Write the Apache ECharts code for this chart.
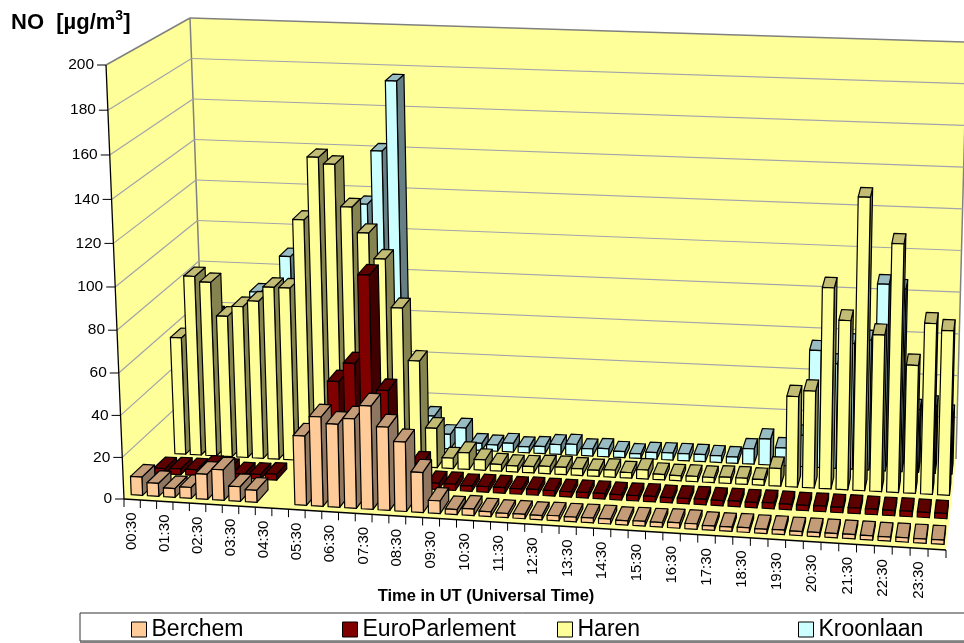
<!DOCTYPE html>
<html><head><meta charset="utf-8">
<style>html,body{margin:0;padding:0;background:#fff}#c{width:964px;height:643px}</style>
<script src="https://cdn.jsdelivr.net/npm/echarts@6/dist/echarts.min.js"></script>
</head><body><div id="c"></div>
<script>
const times = ['00:30','01:00','01:30','02:00','02:30','03:00','03:30','04:00','04:30','05:00','05:30','06:00','06:30','07:00','07:30','08:00','08:30','09:00','09:30','10:00','10:30','11:00','11:30','12:00','12:30','13:00','13:30','14:00','14:30','15:00','15:30','16:00','16:30','17:00','17:30','18:00','18:30','19:00','19:30','20:00','20:30','21:00','21:30','22:00','22:30','23:00','23:30','24:00'];
const yTicks = [0,20,40,60,80,100,120,140,160,180,200];
const berchem = [8.8,6.2,4.2,5.2,12,14.6,7,5.7,null,null,33,42.5,39.5,42.5,49,39.5,33,19,6,2.4,3.1,2.3,2,2.1,2,2.3,2.2,2.3,2.3,2,2.2,2.2,2.5,2.5,2,2,2.2,2,2.1,1.9,2,2,2,2,1.9,2,2,2];
const euro = [2.5,2.8,2.8,4.5,3.5,2.1,2.3,2.8,null,null,28,49,58,100,46,20,12,3,3,2.5,2.7,2.7,2.5,2.7,2.6,2.5,2.6,2.6,2.5,2.5,2.6,2.4,2.5,2.6,2.5,2.6,2.5,2.7,2.6,2.5,2.6,2.5,2.6,2.5,2.4,2.5,2.4,2.4];
const haren = [56.5,86.5,84,68,73,76,83,83,116,146,143,123,111,99,76,51,19,5,8,5,3.2,2.9,3,3.5,3.5,3.2,2.9,3.4,2.6,4.3,2.6,2.4,2.5,2.4,2.9,2.9,2.7,8.4,43,46,95,80,138,74,117,60.5,80.5,77.5];
const kroonlaan = [55,60,55,50,72,65,90,70,80,90,100,117,143,177,40,15.5,7,10.5,3.4,3,4.2,2.9,3.4,4.7,5.2,3.4,3.9,2.9,2.2,3.2,3.4,3.4,3.4,3.2,3,7.3,12.4,8.5,15,56,50,60,62,89,87,30,32,28];

const FONT = '"Liberation Sans", Arial, sans-serif';
const C = {
  a000:[124,499], a100:[946,550], a010:[205,423], a110:[956,459],
  a001:[106,65],  a101:[958,103], a011:[190,18],  a111:[967,42]
};
function P(u,v,w){
  const U=.95*u+.05*u*u, V=1.2*v-.2*v*v, a=.954+.046*V, W=a*w+(1-a)*w*w;
  const out=[0,0];
  for(let k=0;k<2;k++){
    const b=(C.a000[k]*(1-U)+C.a100[k]*U)*(1-V)+(C.a010[k]*(1-U)+C.a110[k]*U)*V;
    const t=(C.a001[k]*(1-U)+C.a101[k]*U)*(1-V)+(C.a011[k]*(1-U)+C.a111[k]*U)*V;
    out[k]=b*(1-W)+t*W;
  }
  return out;
}
function barItem(rank,col){
  return function(params,api){
    const val=api.value(1);
    if(val==null||isNaN(val)) return null;
    const cs=params.coordSys;
    const c0=api.coord([api.value(0),0]), c1=api.coord([api.value(0),val]);
    const band=api.size([1,0])[0];
    const u0=(c0[0]-cs.x-band*.35)/cs.width, u1=(c0[0]-cs.x+band*.35)/cs.width;
    const w=(cs.y+cs.height-c1[1])/cs.height;
    const v0=(rank+.2)/4, v1=(rank+.75)/4;
    const fbl=P(u0,v0,0),fbr=P(u1,v0,0),ftl=P(u0,v0,w),ftr=P(u1,v0,w);
    const bbr=P(u1,v1,0),btl=P(u0,v1,w),btr=P(u1,v1,w);
    const st=c=>({fill:c,stroke:'#000',lineWidth:1.2,lineJoin:'round'});
    return {type:'group',children:[
      {type:'polygon',shape:{points:[fbr,bbr,btr,ftr]},style:st(col.side)},
      {type:'polygon',shape:{points:[ftl,ftr,btr,btl]},style:st(col.top)},
      {type:'polygon',shape:{points:[fbl,fbr,ftr,ftl]},style:st(col.front)}
    ]};
  };
}
const GRID='#a3a3ab', EDGE='#808080';
function line(a,b,c,wd){return {type:'line',shape:{x1:a[0],y1:a[1],x2:b[0],y2:b[1]},style:{stroke:c,lineWidth:wd}};}
function wallItem(params,api){
  if(params.dataIndex!==0) return null;
  return {type:'group',children:[
    {type:'polygon',shape:{points:[P(0,0,1),P(0,1,1),P(1,1,1),P(1,1,0),P(1,0,0),P(0,0,0)]},style:{fill:'#FFFF99',stroke:null}},
    line(P(0,0,1),P(0,1,1),EDGE,1.5),line(P(0,1,1),P(1,1,1),EDGE,1.5),
    line(P(0,1,1),P(0,1,0),EDGE,1.5),line(P(1,1,1),P(1,1,0),EDGE,1.5)
  ]};
}
function yTickItem(params,api){
  const cs=params.coordSys, t=api.value(0), c=api.coord([0,t]);
  const w=(cs.y+cs.height-c[1])/cs.height;
  const a=P(0,0,w), b=P(0,1,w), e=P(1,1,w);
  const kids=[];
  if(t>0 && t<200){kids.push(line(a,b,GRID,1.2),line(b,e,GRID,1.2));}
  kids.push(line([a[0]-9,a[1]],a,'#000',1));
  kids.push({type:'text',x:a[0]-12,y:a[1],style:{text:String(t),align:'right',verticalAlign:'middle',font:'15.5px '+FONT,fill:'#000'}});
  return {type:'group',children:kids};
}
function xTickItem(params,api){
  const cs=params.coordSys, i=api.value(0), c=api.coord([i,0]), band=api.size([1,0])[0];
  const uL=(c[0]-cs.x-band/2)/cs.width, uM=(c[0]-cs.x)/cs.width, uR=(c[0]-cs.x+band/2)/cs.width;
  const a=P(uL,0,0), m=P(uM,0,0), r=P(uR,0,0);
  const kids=[line(a,[a[0],a[1]+8],'#000',1)];
  if(i===times.length-1) kids.push(line(r,[r[0],r[1]+8],'#000',1));
  if(i%2===0) kids.push({type:'text',x:m[0],y:m[1]+13,rotation:Math.PI/2,style:{text:times[i],align:'right',verticalAlign:'middle',font:'15px '+FONT,fill:'#000'}});
  return {type:'group',children:kids};
}
function axisLinesItem(params,api){
  if(params.dataIndex!==0) return null;
  return {type:'group',children:[line(P(0,0,0),P(0,0,1),'#000',1.3),line(P(0,0,0),P(1,0,0),'#000',1.3)]};
}
const rows=[
 {name:'Berchem',data:berchem,rank:0,z:9,col:{front:'#FFCC99',top:'#C49C78',side:'#8E7660'}},
 {name:'EuroParlement',data:euro,rank:1,z:8,col:{front:'#800000',top:'#5C0000',side:'#400000'}},
 {name:'Haren',data:haren,rank:2,z:7,col:{front:'#FFFF99',top:'#C2BC74',side:'#85834F'}},
 {name:'Kroonlaan',data:kroonlaan,rank:3,z:6,col:{front:'#CCFFFF',top:'#99BCC2',side:'#667F85'}}
];
const legendX={Berchem:131,EuroParlement:342,Haren:557,Kroonlaan:798};
const series=[
 {type:'custom',name:'walls',coordinateSystem:'cartesian2d',z:1,silent:true,data:[[0,0]],encode:{x:0,y:1},renderItem:wallItem,clip:false},
 {type:'custom',name:'yTicks',coordinateSystem:'cartesian2d',z:2,silent:true,data:yTicks.map(t=>[t]),encode:{y:0},renderItem:yTickItem,clip:false},
 {type:'custom',name:'xTicks',coordinateSystem:'cartesian2d',z:2,silent:true,data:times.map((t,i)=>[i]),encode:{x:0},renderItem:xTickItem,clip:false},
 {type:'custom',name:'axes',coordinateSystem:'cartesian2d',z:3,silent:true,data:[[0,0]],encode:{x:0,y:1},renderItem:axisLinesItem,clip:false}
].concat(rows.map(r=>({
  type:'custom',name:r.name,coordinateSystem:'cartesian2d',z:r.z,clip:false,
  itemStyle:{color:r.col.front},
  encode:{x:0,y:1},
  data:r.data.map((v,i)=>[i,v]),
  renderItem:barItem(r.rank,r.col)
})));
const option={
  animation:false,
  backgroundColor:'#fff',
  title:[
   {left:11,top:9,padding:0,text:'{a|NO  [µg/m}{b|3}{a|]}',textStyle:{rich:{
      a:{fontFamily:FONT,fontWeight:'bold',fontSize:22,color:'#000',lineHeight:28},
      b:{fontFamily:FONT,fontWeight:'bold',fontSize:14,color:'#000',verticalAlign:'top',lineHeight:18}}}},
   {left:486,top:588,padding:0,textAlign:'center',text:'Time in UT (Universal Time)',textStyle:{fontFamily:FONT,fontWeight:'bold',fontSize:16.5,color:'#000'}}
  ],
  grid:{left:124,top:65,width:822,height:434,containLabel:false},
  xAxis:{type:'category',data:times,show:false},
  yAxis:{type:'value',min:0,max:200,interval:20,show:false},
  legend:rows.map(r=>({
    left:legendX[r.name],top:618,padding:0,data:[r.name],icon:'rect',itemWidth:15,itemHeight:15,itemGap:0,
    selectedMode:false,
    itemStyle:{color:r.col.front,borderColor:'#000',borderWidth:1},
    textStyle:{fontFamily:FONT,fontSize:23,color:'#000'}
  })),
  graphic:[
   {type:'rect',z:0,shape:{x:80,y:613,width:900,height:28},style:{fill:'#fff',stroke:'#333',lineWidth:1}},
   {type:'line',z:0,shape:{x1:80,y1:642,x2:964,y2:642},style:{stroke:'#808080',lineWidth:2}}
  ],
  series:series
};
echarts.init(document.getElementById('c'),null,{renderer:'canvas'}).setOption(option);
</script></body></html>
